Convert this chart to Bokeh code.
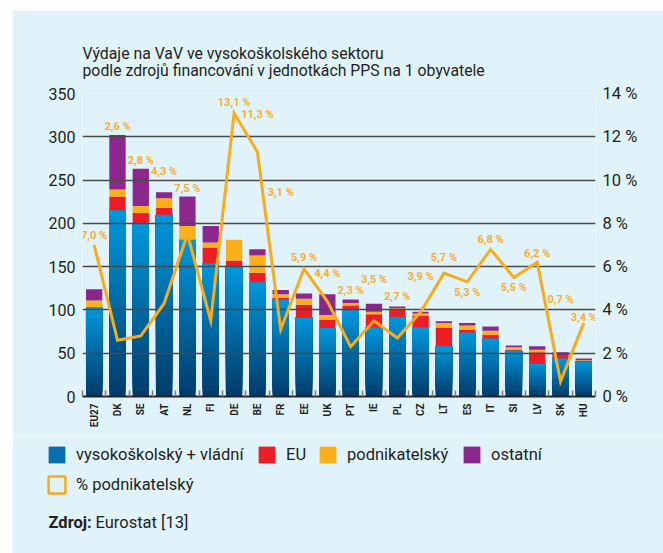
import math
from bokeh.plotting import figure
from bokeh.core.properties import value
from bokeh.models import (Range1d, LinearAxis, FixedTicker, PrintfTickFormatter,
                          Label, Legend, LegendItem, ColumnDataSource, LabelSet, Title)
from bokeh.embed import file_html
from bokeh.resources import INLINE

# ---------------- data ----------------
categories = ["EU27", "DK", "SE", "AT", "NL", "FI", "DE", "BE", "FR", "EE", "UK",
              "PT", "IE", "PL", "CZ", "LT", "ES", "IT", "SI", "LV", "SK", "HU"]
higher_gov = [103, 215, 200, 210, 181, 154, 150, 132, 112, 91, 79,
              100, 80, 92, 80, 58, 74, 67, 53, 38, 44, 40]
eu_funds = [0, 16, 12, 8, 0, 18, 7, 11, 2, 15, 10,
            5, 15, 8, 13, 21, 3, 4, 1, 13, 4, 1]
business = [8, 8, 8, 11, 16, 6, 24, 20, 4, 7, 5,
            3, 3, 2, 3, 6, 5, 5, 3, 3, 0, 1]
other = [13, 63, 43, 7, 34, 19, 0, 7, 5, 6, 24,
         4, 9, 2, 2, 2, 3, 5, 2, 4, 3, 2]
business_pct = [7.0, 2.6, 2.8, 4.3, 7.5, 3.5, 13.1, 11.3, 3.1, 5.9, 4.4,
                2.3, 3.5, 2.7, 3.9, 5.7, 5.3, 6.8, 5.5, 6.2, 0.7, 3.4]
unlabelled = ["FI"]
left_ticks = [0, 50, 100, 150, 200, 250, 300, 350]
right_ticks = [0, 2, 4, 6, 8, 10, 12, 14]
series_names = ["vysokoškolský + vládní", "EU", "podnikatelský", "ostatní", "% podnikatelský"]
title_text = ("Výdaje na VaV ve vysokoškolského sektoru\n"
              "podle zdrojů financování v jednotkách PPS na 1 obyvatele")
source_bold = "Zdroj:"
source_text = "Eurostat [13]"

# ---------------- styles ----------------
# vertical pixel offset of each percentage label above its line point
label_dy = [10, 214, 175, 132, 46, 0, 10, 37, 137, 11, 28,
            56, 41, 42, 36, 16, -11, 10, -10, 9, 82, 5]
BG = "#e1f3fa"
TXT = "#231f20"
RED = "#ee1d25"
ORANGE = "#fbb01a"
PURPLE = "#8c288d"
LINE = "#f9ac1b"
LABEL_C = "#f8ae2c"
TOP_BLUE = (0x00, 0x97, 0xdb)
BOT_BLUE = (0x00, 0x3c, 0x6b)
FONT = "Roboto"
BAR_W = 0.7
NAN = float("nan")

n = len(categories)
xs = [i + 0.5 for i in range(n)]

p = figure(width=651, height=426, output_backend="svg", toolbar_location=None,
           x_range=Range1d(0, n), y_range=Range1d(0, 350),
           min_border_left=70, min_border_right=68, min_border_top=83,
           min_border_bottom=40)
p.margin = (10, 0, 0, 12)
p.background_fill_color = BG
p.border_fill_color = BG
p.outline_line_color = None
p.extra_y_ranges = {"pct": Range1d(0, 14)}

# ---- gradient blue bars (stack of overlapping slices) ----
N = 40
gl, gt, gb, gc = [], [], [], []
for k in range(N):
    f = k / (N - 1)
    col = "#%02x%02x%02x" % tuple(int(round(BOT_BLUE[j] + (TOP_BLUE[j] - BOT_BLUE[j]) * f)) for j in range(3))
    for i in range(n):
        h = higher_gov[i]
        gl.append(xs[i])
        gb.append(h * k / N)
        gt.append(h)
        gc.append(col)
blue_src = ColumnDataSource(dict(x=gl, bottom=gb, top=gt, color=gc))
p.vbar(x="x", bottom="bottom", top="top", width=BAR_W, source=blue_src,
       fill_color="color", line_color=None, level="underlay")

# ---- other stacked segments ----
b1 = [higher_gov[i] for i in range(n)]
t1 = [b1[i] + eu_funds[i] for i in range(n)]
t2 = [t1[i] + business[i] for i in range(n)]
t3 = [t2[i] + other[i] for i in range(n)]
p.vbar(x=xs, bottom=b1, top=t1, width=BAR_W, fill_color=RED, line_color=None, level="underlay")
p.vbar(x=xs, bottom=t1, top=t2, width=BAR_W, fill_color=ORANGE, line_color=None, level="underlay")
p.vbar(x=xs, bottom=t2, top=t3, width=BAR_W, fill_color=PURPLE, line_color=None, level="underlay")

# ---- percentage line ----
p.line(xs, business_pct, y_range_name="pct", line_color=LINE, line_width=3,
       line_join="miter", level="guide")

lab_x, lab_y, lab_t, lab_dy = [], [], [], []
for i in range(n):
    if categories[i] in unlabelled:
        continue
    lab_x.append(xs[i])
    lab_y.append(business_pct[i])
    lab_t.append(("%.1f" % business_pct[i]).replace(".", ",") + " %")
    lab_dy.append(label_dy[i])
lab_src = ColumnDataSource(dict(x=lab_x, y=lab_y, t=lab_t, dy=lab_dy))
p.add_layout(LabelSet(x="x", y="y", text="t", y_offset="dy", source=lab_src, y_range_name="pct",
                      text_align="center", text_baseline="middle", text_font=value(FONT),
                      text_font_size=value("11px"), text_font_style="bold", text_color=LABEL_C))

# ---- axes ----
p.yaxis.ticker = FixedTicker(ticks=left_ticks)
p.yaxis.axis_line_color = None
p.yaxis.major_tick_line_color = None
p.yaxis.major_tick_out = 0
p.yaxis.major_tick_in = 0
p.yaxis.minor_tick_line_color = None
p.yaxis.minor_tick_out = 0
p.yaxis.major_label_standoff = 7
p.yaxis.major_label_text_font = FONT
p.yaxis.major_label_text_font_size = "16px"
p.yaxis.major_label_text_color = TXT

ra = LinearAxis(y_range_name="pct", ticker=FixedTicker(ticks=right_ticks),
                formatter=PrintfTickFormatter(format="%d %%"))
ra.axis_line_color = None
ra.major_tick_line_color = None
ra.major_tick_out = 0
ra.major_tick_in = 0
ra.minor_tick_line_color = None
ra.minor_tick_out = 0
ra.major_label_standoff = 7
ra.major_label_text_font = FONT
ra.major_label_text_font_size = "16.5px"
ra.major_label_text_color = TXT
p.add_layout(ra, "right")

p.xaxis.ticker = FixedTicker(ticks=xs, minor_ticks=list(range(n + 1)))
p.xaxis.major_label_overrides = {xs[i]: categories[i] for i in range(n)}
p.xaxis.major_tick_line_color = None
p.xaxis.major_tick_out = 0
p.xaxis.major_tick_in = 0
p.xaxis.minor_tick_in = 6
p.xaxis.minor_tick_out = 0
p.xaxis.minor_tick_line_color = "#7a7a7a"
p.xaxis.minor_tick_line_width = 1.5
p.xaxis.axis_line_color = "#222222"
p.xaxis.axis_line_width = 2
p.xaxis.major_label_orientation = math.pi / 2
p.xaxis.major_label_standoff = 7
p.xaxis.major_label_text_font = FONT
p.xaxis.major_label_text_font_size = "10px"
p.xaxis.major_label_text_font_style = "bold"
p.xaxis.major_label_text_color = TXT

p.xgrid.visible = False
p.ygrid.ticker = FixedTicker(ticks=left_ticks)
p.ygrid.grid_line_color = "#4a4a4a"
p.ygrid.grid_line_width = 1.5
p.ygrid.level = "glyph"

# ---- title ----
p.add_layout(Title(text=title_text, align="left", offset=0, standoff=27,
                   text_font=FONT, text_font_size="15.8px", text_font_style="normal",
                   text_color=TXT, text_line_height=0.89), "above")

# ---- legend / source panel (separate root so its frame is not aligned) ----
q = figure(width=651, height=117, output_backend="svg", toolbar_location=None,
           x_range=Range1d(0, 1), y_range=Range1d(0, 1),
           min_border=0, min_border_left=0, min_border_right=0,
           min_border_top=0, min_border_bottom=0)
q.margin = (0, 0, 0, 12)
q.axis.visible = False
q.grid.visible = False
q.background_fill_color = BG
q.border_fill_color = BG
q.outline_line_color = None

def swatch(**kw):
    return q.quad(left=[NAN], right=[NAN], top=[NAN], bottom=[NAN], **kw)

swatches = [
    swatch(fill_color="#0a6fae", line_color=None),
    swatch(fill_color=RED, line_color=None),
    swatch(fill_color=ORANGE, line_color=None),
    swatch(fill_color=PURPLE, line_color=None),
    swatch(fill_alpha=0, line_color=LINE, line_width=2.5),
]
legend_pos = [(34, 88), (244, 88), (305, 88), (449, 88), (34, 58)]
for name, rend, loc in zip(series_names, swatches, legend_pos):
    lg = Legend(items=[LegendItem(label=name, renderers=[rend])], location=loc,
                orientation="horizontal", padding=0, margin=0, spacing=0,
                border_line_alpha=0, background_fill_alpha=0,
                glyph_width=21, glyph_height=21, label_height=21, label_standoff=9,
                label_text_font=FONT, label_text_font_size="16.5px", label_text_color=TXT,
                label_text_baseline="middle")
    q.add_layout(lg)

q.add_layout(Label(x=36, y=31, x_units="screen", y_units="screen", text=source_bold,
                   text_font=FONT, text_font_size="16.5px", text_font_style="bold",
                   text_color=TXT, text_baseline="alphabetic"))
q.add_layout(Label(x=83, y=31, x_units="screen", y_units="screen", text=source_text,
                   text_font=FONT, text_font_size="16.5px", text_color=TXT,
                   text_baseline="alphabetic"))

open("out.html", "w").write(file_html([p, q], INLINE))
